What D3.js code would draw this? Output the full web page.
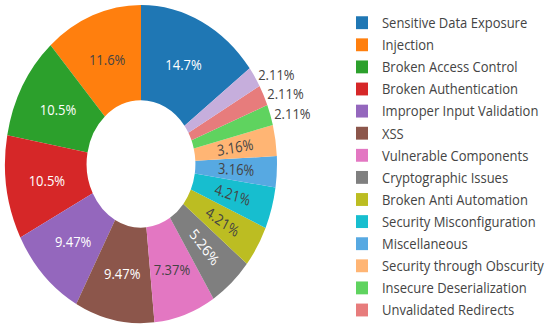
<!DOCTYPE html>
<html>
<head>
<meta charset="utf-8">
<script src="https://cdn.jsdelivr.net/npm/d3@7"></script>
<style>
  body { margin: 0; background: #fff; }
  svg { display: block; font-family: "Open Sans", sans-serif; }
</style>
</head>
<body>
<div id="chart"></div>
<script>
const categories = ["Sensitive Data Exposure", "Injection", "Broken Access Control",
  "Broken Authentication", "Improper Input Validation", "XSS", "Vulnerable Components",
  "Cryptographic Issues", "Broken Anti Automation", "Security Misconfiguration",
  "Miscellaneous", "Security through Obscurity", "Insecure Deserialization",
  "Unvalidated Redirects", "XXE"];
const counts = [14, 11, 10, 10, 9, 9, 7, 5, 4, 4, 3, 3, 2, 2, 2];
const colors = ["#1f77b4", "#ff7f0e", "#2ca02c", "#d62728", "#9467bd", "#8c564b",
  "#e377c2", "#7f7f7f", "#bcbd22", "#17becf", "#57a9e2", "#ffb574", "#5fd35f",
  "#e77c7c", "#c6aedc"];

const width = 550, height = 326;
// the picture is stretched vertically, so draw in a squeezed space and scale up
const sy = 1.17;
const cx = 141, cy = 164 / sy;
const outerR = 136, innerR = outerR * 0.4;

const svg = d3.select("#chart").append("svg")
  .attr("width", width)
  .attr("height", height);
const root = svg.append("g").attr("transform", "scale(1," + sy + ")");

const data = categories.map(function(c, i) { return {name: c, value: counts[i], color: colors[i]}; });
const total = d3.sum(counts);

// first slice ends at 12 o'clock, the rest run counterclockwise
const a0 = 2 * Math.PI * counts[0] / total;
const pie = d3.pie().sort(null).value(d => d.value).startAngle(a0).endAngle(a0 - 2 * Math.PI);
const arcs = pie(data);

const arc = d3.arc().innerRadius(innerR).outerRadius(outerR);
const g = root.append("g").attr("transform", "translate(" + cx + "," + cy + ")");

g.selectAll("path").data(arcs).enter().append("path")
  .attr("d", arc)
  .attr("fill", d => d.data.color);

function textColor(c) {
  const rgb = d3.rgb(c);
  const b = (rgb.r * 299 + rgb.g * 587 + rgb.b * 114) / 1000;
  return b < 128 ? "#fff" : "#444";
}

const fmt = v => {
  const p = 100 * v / total;
  return d3.format(".3~r")(p) + "%";
};

const midR = (innerR + outerR) / 2;
arcs.forEach(function(d) {
  const frac = d.data.value / total;
  let mid = (d.startAngle + d.endAngle) / 2;
  mid = ((mid % (2 * Math.PI)) + 2 * Math.PI) % (2 * Math.PI);
  if (frac < 0.025) {
    // outside label
    const r = outerR + 4;
    g.append("text")
      .attr("x", r * Math.sin(mid))
      .attr("y", -r * Math.cos(mid))
      .attr("dy", "0.35em")
      .attr("font-size", 13)
      .attr("fill", "#444")
      .text(fmt(d.data.value));
    return;
  }
  const x = midR * Math.sin(mid), y = -midR * Math.cos(mid);
  let rot = 0;
  if (frac < 0.06) {
    const deg = mid * 180 / Math.PI;
    rot = deg <= 180 ? deg - 90 : deg - 270;
  }
  g.append("text")
    .attr("transform", "translate(" + x + "," + y + ") rotate(" + rot + ")")
    .attr("text-anchor", "middle")
    .attr("dy", "0.35em")
    .attr("font-size", 13)
    .attr("fill", textColor(d.data.color))
    .text(fmt(d.data.value));
});

// legend (scrolled: only the rows that fit are shown)
const rowH = 22.1 / sy;
const legendTop = 22.7 / sy;
const shown = data.filter((d, i) => (legendTop + i * rowH + 8) * sy <= height);
const legend = root.append("g").attr("transform", "translate(356," + legendTop + ")");
const item = legend.selectAll("g").data(shown).enter().append("g")
  .attr("transform", (d, i) => "translate(0," + (i * rowH) + ")");
item.append("rect")
  .attr("x", 0).attr("y", -5.5)
  .attr("width", 12).attr("height", 11)
  .attr("fill", d => d.color);
item.append("text")
  .attr("x", 26)
  .attr("dy", "0.35em")
  .attr("font-size", 13)
  .attr("fill", "#444")
  .text(d => d.name);
</script>
</body>
</html>
